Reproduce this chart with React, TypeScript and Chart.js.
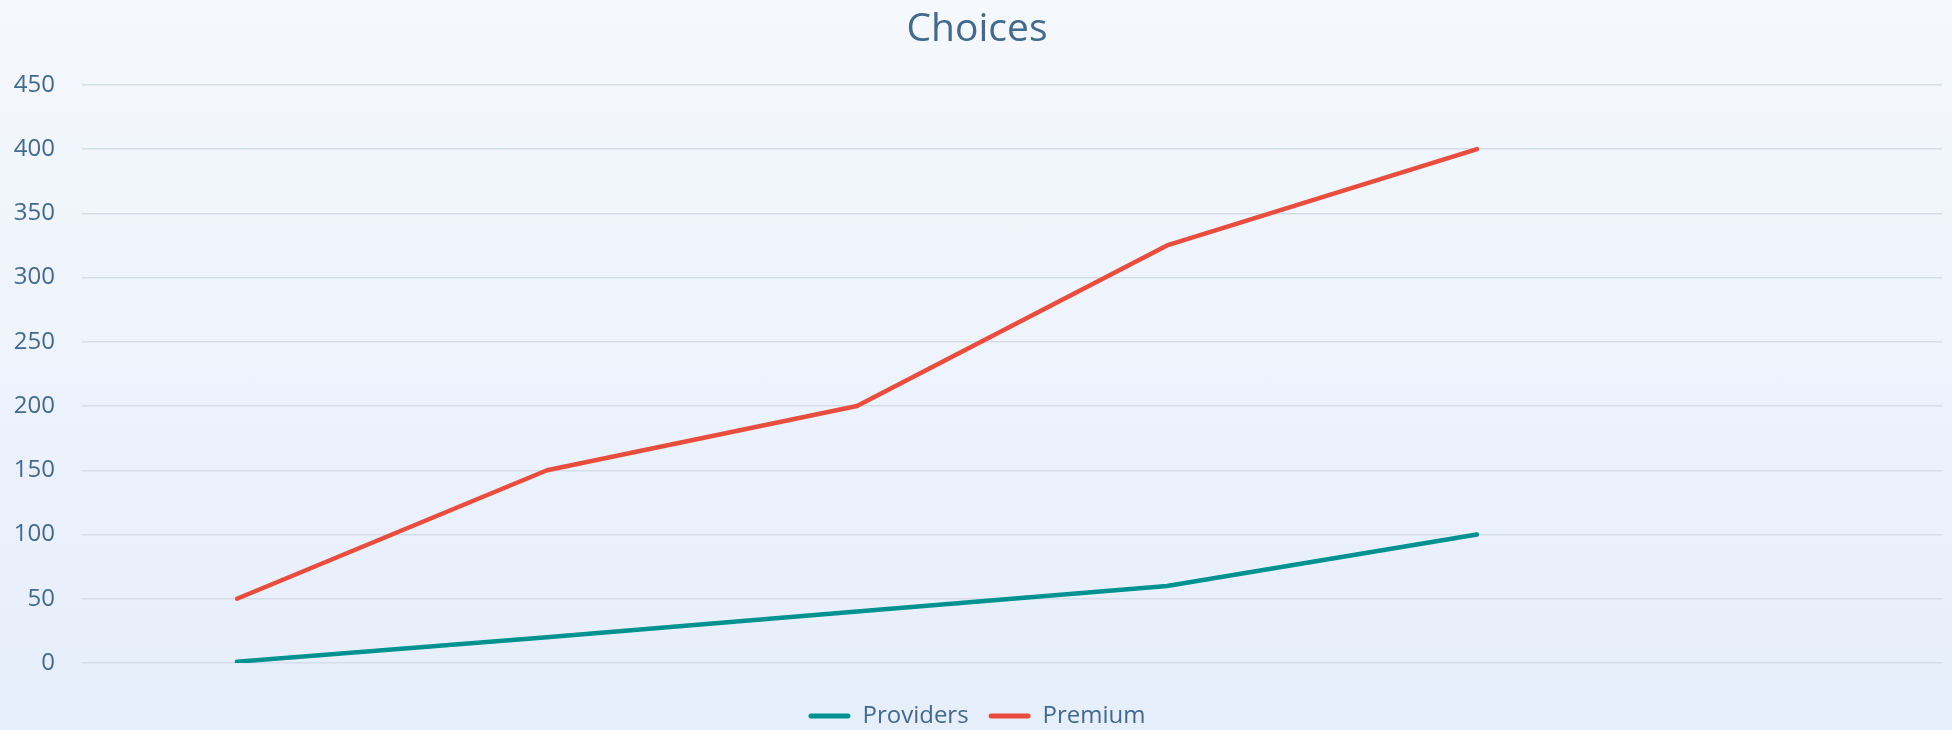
import React, { useEffect, useRef } from "react";
import { Chart, registerables } from "chart.js";

Chart.register(...registerables);

const categories = ["A", "B", "C", "D", "E", ""];
const providers = [1, 20, 40, 60, 100, null];
const premium = [50, 150, 200, 325, 400, null];
const yTicks = [0, 50, 100, 150, 200, 250, 300, 350, 400, 450];

const TEXT = "#43698d";
const FONT = "'Open Sans', 'Noto Sans', sans-serif";

export default function App() {
  const ref = useRef<HTMLCanvasElement | null>(null);

  useEffect(() => {
    document.body.style.margin = "0";
    const canvas = ref.current;
    if (!canvas) return;
    const chart = new Chart(canvas, {
      type: "line",
      data: {
        labels: categories,
        datasets: [
          {
            label: "Providers",
            data: providers,
            borderColor: "#009290",
            backgroundColor: "#009290",
            borderWidth: 4.5,
            pointRadius: 0,
            borderCapStyle: "round",
            borderJoinStyle: "round",
            tension: 0,
          },
          {
            label: "Premium",
            data: premium,
            borderColor: "#e84d3d",
            backgroundColor: "#e84d3d",
            borderWidth: 4.5,
            pointRadius: 0,
            borderCapStyle: "round",
            borderJoinStyle: "round",
            tension: 0,
          },
        ],
      },
      options: {
        animation: false,
        responsive: false,
        maintainAspectRatio: false,
        layout: { padding: { left: 12, right: 10, top: 0, bottom: -8 } },
        plugins: {
          title: {
            display: true,
            text: "Choices",
            color: TEXT,
            font: { family: FONT, size: 39, weight: "normal" },
            padding: { top: 6, bottom: 32 },
          },
          legend: {
            position: "bottom",
            labels: {
              color: TEXT,
              font: { family: FONT, size: 24 },
              boxWidth: 42,
              boxHeight: 5,
              padding: 20,
              useBorderRadius: true,
              borderRadius: 2.5,
              generateLabels: (c: any) =>
                Chart.defaults.plugins.legend.labels
                  .generateLabels(c)
                  .map((l: any) => ({ ...l, lineWidth: 0 })),
            },
          },
          tooltip: { enabled: false },
        },
        scales: {
          x: {
            offset: true,
            grid: { display: false },
            border: { display: false },
            ticks: { display: false },
            afterFit: (scale: any) => {
              scale.height = 21;
            },
          },
          y: {
            min: 0,
            max: 450,
            afterBuildTicks: (scale: any) => {
              scale.ticks = yTicks.map((v) => ({ value: v }));
            },
            afterFit: (scale: any) => {
              scale.width = 70;
            },
            grid: { color: "#d3dee9", lineWidth: 1.5, drawTicks: false },
            border: { display: false },
            ticks: {
              color: TEXT,
              font: { family: FONT, size: 24 },
              padding: 27,
            },
          },
        },
      },
    });
    return () => chart.destroy();
  }, []);

  return (
    <div
      style={{
        width: 1952,
        height: 730,
        background: "linear-gradient(180deg, #f5f8fd 0%, #e6eefb 100%)",
      }}
    >
      <canvas ref={ref} width={1952} height={730} style={{ display: "block" }} />
    </div>
  );
}
